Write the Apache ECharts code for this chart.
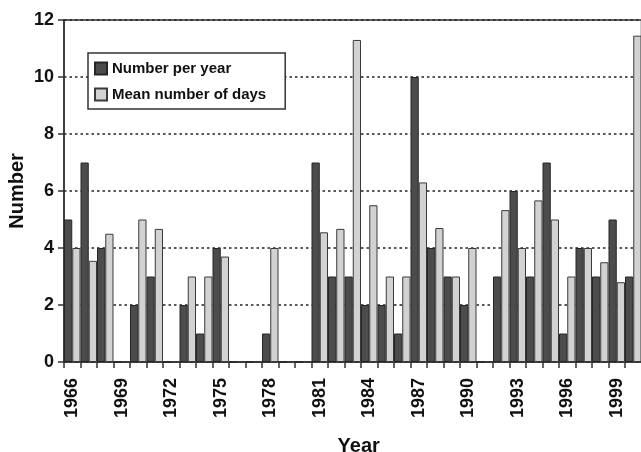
<!DOCTYPE html>
<html>
<head>
<meta charset="utf-8">
<script src="https://cdn.jsdelivr.net/npm/echarts@6/dist/echarts.min.js"></script>
<style>
html,body{margin:0;padding:0;background:#fff;}
#chart{width:641px;height:452px;}
</style>
</head>
<body>
<div id="chart"></div>
<script>
var years = ['1966','1967','1968','1969','1970','1971','1972','1973','1974','1975','1976','1977','1978','1979','1980','1981','1982','1983','1984','1985','1986','1987','1988','1989','1990','1991','1992','1993','1994','1995','1996','1997','1998','1999','2000'];
var numberPerYear = [5,7,4,0,2,3,0,2,1,4,0,0,1,0,0,7,3,3,2,2,1,10,4,3,2,0,3,6,3,7,1,4,3,5,3];
var meanDays = [4,3.55,4.5,0,5,4.67,0,3,3,3.7,0,0,4,0,0,4.55,4.67,11.3,5.5,3,3,6.3,4.7,3,4,0,5.33,4,5.67,5,3,4,3.5,2.8,11.45];
var yTicks = [0,2,4,6,8,10,12];

var chart = echarts.init(document.getElementById('chart'));
var font = '"Liberation Sans", Arial, sans-serif';
chart.setOption({
  animation: false,
  backgroundColor: '#fff',
  grid: {left: 64, top: 20, width: 577.5, height: 342, containLabel: false, outerBoundsMode: 'none',
         show: true, borderColor: '#333', borderWidth: 1.5, backgroundColor: 'transparent'},
  legend: {
    orient: 'vertical', left: 88, top: 53,
    padding: [8, 19, 7, 6],
    itemWidth: 12, itemHeight: 12, itemGap: 11,
    icon: 'rect',
    backgroundColor: '#fff', borderColor: '#333', borderWidth: 1.5,
    textStyle: {fontFamily: font, fontWeight: 'bold', fontSize: 15, color: '#111'},
    data: ['Number per year', 'Mean number of days']
  },
  xAxis: {
    type: 'category', data: years,
    name: 'Year', nameLocation: 'middle', nameGap: 74,
    nameTextStyle: {fontFamily: font, fontWeight: 'bold', fontSize: 20, color: '#111', padding: [0, 0, 0, 12]},
    axisLine: {lineStyle: {color: '#333', width: 1.5}},
    axisTick: {show: true, interval: 0, length: 6, lineStyle: {color: '#333', width: 1.5}},
    axisLabel: {interval: 2, rotate: 90, margin: 16, fontFamily: font, fontWeight: 'bold', fontSize: 18, color: '#111'}
  },
  yAxis: {
    type: 'value', min: 0, max: 12, interval: 2,
    name: 'Number', nameLocation: 'middle', nameGap: 37, nameMoveOverlap: false,
    nameTextStyle: {fontFamily: font, fontWeight: 'bold', fontSize: 20, color: '#111'},
    axisLine: {show: true, lineStyle: {color: '#333', width: 1.5}},
    axisTick: {show: true, length: 6, lineStyle: {color: '#333', width: 1.5}},
    axisLabel: {margin: 10, fontFamily: font, fontWeight: 'bold', fontSize: 18, color: '#111',
      formatter: function(v){ return yTicks.indexOf(v) >= 0 ? String(v) : ''; }},
    splitLine: {show: true, lineStyle: {color: '#222', width: 1.5, type: [2.5, 3]}}
  },
  series: [
    {name: 'Number per year', type: 'bar', data: numberPerYear, barGap: '0%', barCategoryGap: '0%',
     itemStyle: {color: '#4c4c4c', borderColor: '#262626', borderWidth: 1}},
    {name: 'Mean number of days', type: 'bar', data: meanDays, barGap: '0%', barCategoryGap: '0%',
     itemStyle: {color: '#d2d2d2', borderColor: '#3a3a3a', borderWidth: 1}}
  ]
});
</script>
</body>
</html>
